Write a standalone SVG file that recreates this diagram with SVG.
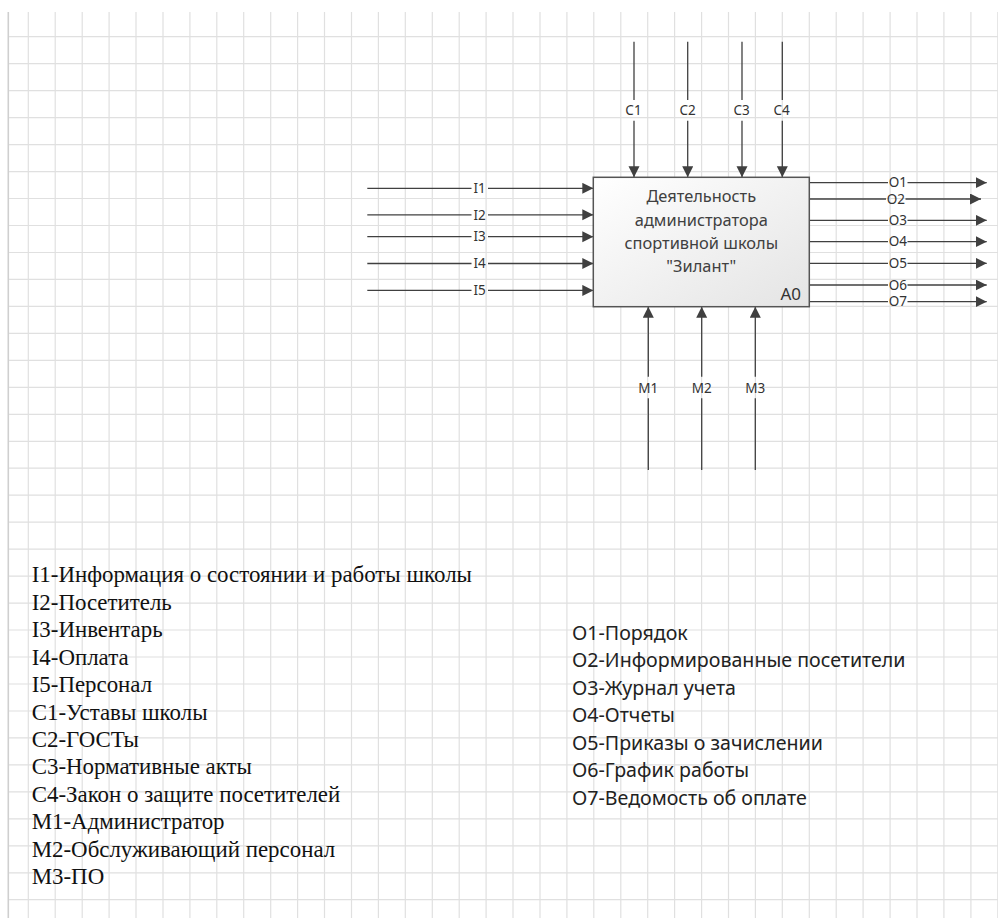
<svg xmlns="http://www.w3.org/2000/svg" width="998" height="918" viewBox="0 0 998 918">
<defs>
<linearGradient id="boxfill" x1="0" y1="0" x2="1" y2="1">
<stop offset="0" stop-color="#ffffff"/>
<stop offset="1" stop-color="#e4e4e4"/>
</linearGradient>
<marker id="arr" markerUnits="userSpaceOnUse" markerWidth="12" markerHeight="12" refX="11" refY="5.5" orient="auto">
<path d="M0,0 L11,5.5 L0,11 Z" fill="#404040"/>
</marker>
</defs>
<style>
.grid{stroke:#e0e0e0;stroke-width:1.2;fill:none}
.border{stroke:#cfcfcf;stroke-width:1.6;fill:none}
.ln{stroke:#404040;stroke-width:1.3;fill:none}
.ar{stroke:#404040;stroke-width:1.3;fill:none;marker-end:url(#arr)}
.lbl{font-family:"Noto Sans","Open Sans","DejaVu Sans",sans-serif;font-size:13.5px;fill:#333;text-anchor:middle}
.box{fill:url(#boxfill);stroke:#555;stroke-width:1.5}
.btxt{font-family:"Noto Sans","Open Sans","DejaVu Sans",sans-serif;font-size:16.4px;fill:#404040;text-anchor:middle}
.a0{font-family:"Noto Sans","Open Sans","DejaVu Sans",sans-serif;font-size:17px;fill:#333;text-anchor:end}
.lgl{font-family:"Liberation Serif","Times New Roman",serif;font-size:22.9px;fill:#111}
.lgr{font-family:"Noto Sans","Open Sans","DejaVu Sans",sans-serif;font-size:19.6px;fill:#222}
</style>
<rect x="0" y="0" width="998" height="918" fill="#ffffff"/>
<g id="grid">
<path class="grid" d="M28.3 12V918M55.2 12V918M82.2 12V918M109.1 12V918M136 12V918M163 12V918M189.9 12V918M216.8 12V918M243.7 12V918M270.7 12V918M297.6 12V918M324.5 12V918M351.5 12V918M378.4 12V918M405.3 12V918M432.3 12V918M459.2 12V918M486.1 12V918M513 12V918M540 12V918M566.9 12V918M593.8 12V918M620.8 12V918M647.7 12V918M674.6 12V918M701.6 12V918M728.5 12V918M755.4 12V918M782.3 12V918M809.3 12V918M836.2 12V918M863.1 12V918M890.1 12V918M917 12V918M943.9 12V918M970.9 12V918M997.8 12V918"/>
<path class="grid" d="M8 36.7H998M8 63.7H998M8 90.6H998M8 117.6H998M8 144.6H998M8 171.6H998M8 198.5H998M8 225.5H998M8 252.5H998M8 279.4H998M8 306.4H998M8 333.4H998M8 360.3H998M8 387.3H998M8 414.3H998M8 441.3H998M8 468.2H998M8 495.2H998M8 522.2H998M8 549.1H998M8 576.1H998M8 603.1H998M8 630H998M8 657H998M8 684H998M8 711H998M8 737.9H998M8 764.9H998M8 791.9H998M8 818.8H998M8 845.8H998M8 872.8H998M8 899.7H998"/>
<path class="border" d="M8.3 12V918"/>
</g>
<g id="connectors">
<line class="ln" x1="367.3" y1="188.3" x2="471.5" y2="188.3"/><line class="ar" x1="488" y1="188.3" x2="593.3" y2="188.3"/>
<line class="ln" x1="367.3" y1="214.8" x2="471.5" y2="214.8"/><line class="ar" x1="488" y1="214.8" x2="593.3" y2="214.8"/>
<line class="ln" x1="367.3" y1="236.7" x2="471.5" y2="236.7"/><line class="ar" x1="488" y1="236.7" x2="593.3" y2="236.7"/>
<line class="ln" x1="367.3" y1="263.5" x2="471.5" y2="263.5"/><line class="ar" x1="488" y1="263.5" x2="593.3" y2="263.5"/>
<line class="ln" x1="367.3" y1="290.4" x2="471.5" y2="290.4"/><line class="ar" x1="488" y1="290.4" x2="593.3" y2="290.4"/>
<line class="ln" x1="634" y1="41.7" x2="634" y2="100"/><line class="ar" x1="634" y1="120.7" x2="634" y2="177.3"/>
<line class="ln" x1="687.7" y1="41.7" x2="687.7" y2="100"/><line class="ar" x1="687.7" y1="120.7" x2="687.7" y2="177.3"/>
<line class="ln" x1="742" y1="41.7" x2="742" y2="100"/><line class="ar" x1="742" y1="120.7" x2="742" y2="177.3"/>
<line class="ln" x1="782.3" y1="41.7" x2="782.3" y2="100"/><line class="ar" x1="782.3" y1="120.7" x2="782.3" y2="177.3"/>
<line class="ln" x1="648.3" y1="470" x2="648.3" y2="398.3"/><line class="ar" x1="648.3" y1="376.7" x2="648.3" y2="306.7"/>
<line class="ln" x1="701.7" y1="470" x2="701.7" y2="398.3"/><line class="ar" x1="701.7" y1="376.7" x2="701.7" y2="306.7"/>
<line class="ln" x1="755.3" y1="470" x2="755.3" y2="398.3"/><line class="ar" x1="755.3" y1="376.7" x2="755.3" y2="306.7"/>
<line class="ln" x1="809.3" y1="182.7" x2="888" y2="182.7"/><line class="ar" x1="907.5" y1="182.7" x2="986.7" y2="182.7"/>
<line class="ln" x1="809.3" y1="199" x2="886" y2="199"/><line class="ar" x1="905.5" y1="199" x2="981" y2="199"/>
<line class="ln" x1="809.3" y1="220.3" x2="888" y2="220.3"/><line class="ar" x1="907.5" y1="220.3" x2="986.7" y2="220.3"/>
<line class="ln" x1="809.3" y1="241.7" x2="888" y2="241.7"/><line class="ar" x1="907.5" y1="241.7" x2="986.7" y2="241.7"/>
<line class="ln" x1="809.3" y1="263.3" x2="888" y2="263.3"/><line class="ar" x1="907.5" y1="263.3" x2="986.7" y2="263.3"/>
<line class="ln" x1="809.3" y1="285" x2="888" y2="285"/><line class="ar" x1="907.5" y1="285" x2="986.7" y2="285"/>
<line class="ln" x1="809.3" y1="301.7" x2="888" y2="301.7"/><line class="ar" x1="907.5" y1="301.7" x2="986.7" y2="301.7"/>
</g>
<g id="arrow-labels">
<text class="lbl" x="479.7" y="193">I1</text>
<text class="lbl" x="479.7" y="219.5">I2</text>
<text class="lbl" x="479.7" y="241.4">I3</text>
<text class="lbl" x="479.7" y="268.2">I4</text>
<text class="lbl" x="479.7" y="295.1">I5</text>
<text class="lbl" x="633.5" y="115">C1</text>
<text class="lbl" x="687.7" y="115">C2</text>
<text class="lbl" x="741.7" y="115">C3</text>
<text class="lbl" x="781.7" y="115">C4</text>
<text class="lbl" x="648.3" y="393">M1</text>
<text class="lbl" x="701.7" y="393">M2</text>
<text class="lbl" x="755.3" y="393">M3</text>
<text class="lbl" x="897.8" y="187.4">O1</text>
<text class="lbl" x="895.8" y="203.7">O2</text>
<text class="lbl" x="897.8" y="225">O3</text>
<text class="lbl" x="897.8" y="246.4">O4</text>
<text class="lbl" x="897.8" y="268">O5</text>
<text class="lbl" x="897.8" y="289.7">O6</text>
<text class="lbl" x="897.8" y="306.4">O7</text>
</g>
<g id="node-A0">
<rect class="box" x="593.3" y="177.3" width="216" height="129.4"/>
<text class="btxt" x="701.3" y="202.3">Деятельность</text>
<text class="btxt" x="701.3" y="225.5">администратора</text>
<text class="btxt" x="701.3" y="248.5">спортивной школы</text>
<text class="btxt" x="701.3" y="271.5">"Зилант"</text>
<text class="a0" x="801" y="300">A0</text>
</g>
<g id="legend-left">
<text class="lgl" x="31.7" y="582.3">I1-Информация о состоянии и работы школы</text>
<text class="lgl" x="31.7" y="609.7">I2-Посетитель</text>
<text class="lgl" x="31.7" y="637.2">I3-Инвентарь</text>
<text class="lgl" x="31.7" y="664.6">I4-Оплата</text>
<text class="lgl" x="31.7" y="692">I5-Персонал</text>
<text class="lgl" x="31.7" y="719.5">C1-Уставы школы</text>
<text class="lgl" x="31.7" y="746.9">C2-ГОСТы</text>
<text class="lgl" x="31.7" y="774.3">C3-Нормативные акты</text>
<text class="lgl" x="31.7" y="801.7">C4-Закон о защите посетителей</text>
<text class="lgl" x="31.7" y="829.2">M1-Администратор</text>
<text class="lgl" x="31.7" y="856.6">M2-Обслуживающий персонал</text>
<text class="lgl" x="31.7" y="884">M3-ПО</text>
</g>
<g id="legend-right">
<text class="lgr" x="572" y="640">O1-Порядок</text>
<text class="lgr" x="572" y="667.4">O2-Информированные посетители</text>
<text class="lgr" x="572" y="694.9">O3-Журнал учета</text>
<text class="lgr" x="572" y="722.4">O4-Отчеты</text>
<text class="lgr" x="572" y="749.9">O5-Приказы о зачислении</text>
<text class="lgr" x="572" y="777.4">O6-График работы</text>
<text class="lgr" x="572" y="804.9">O7-Ведомость об оплате</text>
</g>
</svg>
